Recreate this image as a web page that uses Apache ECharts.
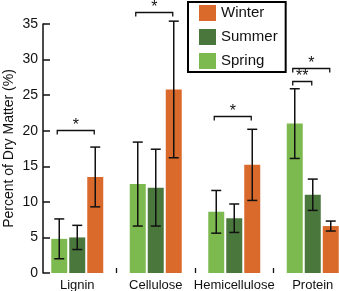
<!DOCTYPE html>
<html>
<head>
<meta charset="utf-8">
<script src="https://cdn.jsdelivr.net/npm/echarts@6/dist/echarts.min.js"></script>
<style>
  html, body { margin: 0; padding: 0; background: #fff; }
  #main { width: 339px; height: 291px; }
</style>
</head>
<body>
<div id="main"></div>
<script>
const categories = ["Lignin", "Cellulose", "Hemicellulose", "Protein"];
const seasons = ["Spring", "Summer", "Winter"];
const colors = ["#7cb94f", "#4a773c", "#da6a2c"];

// means (% of dry matter)
const spring = [4.8, 12.5, 8.6, 21.0];
const summer = [5.0, 12.0, 7.7, 11.0];
const winter = [13.5, 25.8, 15.2, 6.6];
// error (+/-)
const springErr = [2.8, 5.9, 3.0, 4.9];
const summerErr = [1.7, 5.4, 2.0, 2.2];
const winterErr = [4.2, 9.6, 5.0, 0.7];

const yTicks = [0, 5, 10, 15, 20, 25, 30, 35];

// significance: [category, from season, to season, y, label]
const sigCat = [0, 1, 2, 3, 3];
const sigFrom = [0, 0, 0, 0, 0];
const sigTo = [2, 2, 2, 1, 2];
const sigY = [20.1, 36.7, 22.0, 27.0, 28.8];
const sigLabel = ["*", "*", "*", "**", "*"];

const means = [spring, summer, winter];
const errs = [springErr, summerErr, winterErr];

const BAR_W = 16;
const BAR_GAP = 2;

function offsetOf(k) {
  return (k - 1) * (BAR_W + BAR_GAP);
}

const chart = echarts.init(document.getElementById("main"), null, { renderer: "canvas" });

const barSeries = seasons.map((name, k) => ({
  name: name,
  type: "bar",
  data: means[k],
  barWidth: BAR_W,
  barGap: (BAR_GAP / BAR_W * 100) + "%",
  itemStyle: { color: colors[k] },
  z: 2,
}));

// error bars
const errData = [];
seasons.forEach((s, k) => {
  categories.forEach((c, i) => {
    errData.push([i, means[k][i] - errs[k][i], means[k][i] + errs[k][i], k]);
  });
});

const errSeries = {
  type: "custom",
  z: 5,
  silent: true,
  data: errData,
  renderItem: (params, api) => {
    const x0 = api.coord([api.value(0), 0])[0] + offsetOf(api.value(3));
    const lo = api.coord([api.value(0), api.value(1)])[1];
    const hi = api.coord([api.value(0), api.value(2)])[1];
    const hw = 5;
    const st = { stroke: "#111", lineWidth: 1.5 };
    return {
      type: "group",
      children: [
        { type: "line", shape: { x1: x0, y1: lo, x2: x0, y2: hi }, style: st },
        { type: "line", shape: { x1: x0 - hw, y1: lo, x2: x0 + hw, y2: lo }, style: st },
        { type: "line", shape: { x1: x0 - hw, y1: hi, x2: x0 + hw, y2: hi }, style: st },
      ],
    };
  },
};

// significance brackets
const sigSeries = {
  type: "custom",
  z: 6,
  silent: true,
  clip: false,
  data: sigCat.map((c, i) => [c, sigFrom[i], sigTo[i], sigY[i]]),
  renderItem: (params, api) => {
    const cx = api.coord([api.value(0), 0])[0];
    const x1 = cx + offsetOf(api.value(1)) - 2;
    const x2 = cx + offsetOf(api.value(2)) - 1;
    const y = Math.round(api.coord([api.value(0), api.value(3)])[1]) + 0.5;
    const st = { stroke: "#111", lineWidth: 1.3 };
    const lab = sigLabel[params.dataIndex];
    return {
      type: "group",
      children: [
        { type: "polyline", shape: { points: [[x1, y + 4], [x1, y], [x2, y], [x2, y + 4]] }, style: Object.assign({ fill: null }, st) },
        {
          type: "text",
          style: {
            text: lab,
            x: (x1 + x2) / 2,
            y: y + 3,
            align: "center",
            verticalAlign: "bottom",
            font: "16px 'Liberation Sans', Arial, sans-serif",
            fill: "#111",
          },
        },
      ],
    };
  },
};

chart.setOption({
  animation: false,
  textStyle: { fontFamily: "'Liberation Sans', Arial, sans-serif" },
  grid: { left: 38, top: 24, width: 314, bottom: 18, outerBoundsMode: "none", containLabel: false },
  legend: {
    data: ["Winter", "Summer", "Spring"],
    orient: "vertical",
    left: 188,
    top: 2,
    itemWidth: 17,
    itemHeight: 16,
    itemGap: 8,
    icon: "rect",
    padding: [3, 8, 3, 11],
    borderColor: "#000",
    borderWidth: 2,
    textStyle: { fontSize: 15, color: "#111" },
  },
  xAxis: {
    type: "category",
    data: categories,
    axisLine: { show: false },
    axisTick: {
      show: true,
      inside: true,
      length: 5,
      interval: (i) => i > 0,
      lineStyle: { color: "#111", width: 1.3 },
    },
    axisLabel: { fontSize: 13, color: "#111", margin: 6, interval: 0 },
  },
  yAxis: {
    type: "value",
    min: 0,
    max: 35,
    interval: 5,
    offset: -5,
    name: "Percent of Dry Matter (%)",
    nameLocation: "middle",
    nameGap: 27,
    nameMoveOverlap: false,
    nameTextStyle: { fontSize: 14, color: "#111" },
    splitLine: { show: false },
    axisLine: { show: true, lineStyle: { color: "#111", width: 1.5 } },
    axisTick: { show: true, inside: true, length: 7, lineStyle: { color: "#111", width: 1.5 } },
    axisLabel: {
      fontSize: 14,
      color: "#111",
      margin: 5,
      formatter: (v) => (yTicks.indexOf(v) >= 0 ? String(v) : ""),
    },
  },
  series: [...barSeries, errSeries, sigSeries],
});
</script>
</body>
</html>
